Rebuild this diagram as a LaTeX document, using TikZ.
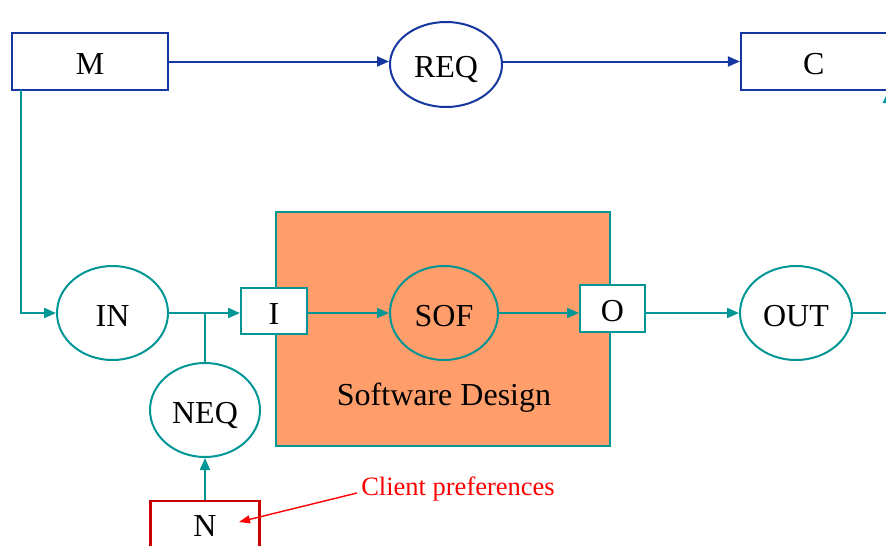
\documentclass[tikz,border=0pt]{standalone}
\usepackage{fontspec}
\setmainfont{Liberation Serif}
\usetikzlibrary{shapes.geometric,arrows.meta}
\definecolor{teal}{RGB}{0,150,150}
\definecolor{navy}{RGB}{20,55,160}
\definecolor{salmon}{RGB}{255,158,106}
\definecolor{darkred}{RGB}{200,0,0}
\tikzset{
  lbl/.style={font=\fontsize{32}{38}\selectfont, text=black, inner sep=0pt,
              text height=26pt, text depth=0pt},
  boxnode/.style={draw, rectangle, line width=2.2pt, fill=white, lbl},
  ovalnode/.style={draw=teal, ellipse, line width=2pt, fill=white, lbl},
  tip/.style={-{Triangle[length=12pt,width=10pt]}},
  tealline/.style={draw=teal, line width=2pt},
  blueline/.style={draw=navy, line width=2pt},
}
\begin{document}
\begin{tikzpicture}[x=1pt, y=-1pt]
\useasboundingbox (0,0) rectangle (886,546);
\clip (0,0) rectangle (886,546);

% top row
\node[boxnode, draw=navy, minimum width=156pt, minimum height=57pt] (M) at (90,61.5) {M};
\node[ovalnode, draw=navy, minimum width=112pt, minimum height=85pt] (REQ) at (446,64.5) {REQ};
\node[boxnode, draw=navy, minimum width=152pt, minimum height=57pt, text width=144pt, align=left] (C) at (817,61.5) {\hspace*{58pt}C};

% software design block
\node[draw=teal, line width=1.4pt, fill=salmon, minimum width=334pt, minimum height=234pt, inner sep=0pt] (SD) at (443,329) {};
\node[lbl] (SDlabel) at (444,392.5) {Software Design};

% middle row
\node[ovalnode, minimum width=111pt, minimum height=94pt] (IN) at (112.5,313) {IN};
\node[boxnode, draw=teal, line width=2pt, minimum width=66pt, minimum height=46pt] (I) at (274,311) {I};
\node[ovalnode, fill=salmon, minimum width=108pt, minimum height=94pt] (SOF) at (444,313) {SOF};
\node[boxnode, draw=teal, line width=2pt, minimum width=65pt, minimum height=47pt] (O) at (612.5,308.5) {O};
\node[ovalnode, minimum width=112pt, minimum height=94pt] (OUT) at (796,313) {OUT};

% lower nodes
\node[ovalnode, minimum width=110pt, minimum height=94pt] (NEQ) at (205,410) {NEQ};
\node[boxnode, draw=darkred, minimum width=109pt, minimum height=60pt] (N) at (205,531) {};
\node[lbl] (Nlabel) at (205,523) {N};
\node[inner sep=0pt, text=red, font=\fontsize{26.5}{32}\selectfont] (CP) at (458,489) {Client preferences};

% connectors
\draw[blueline, tip] (M.east) -- (M.east -| REQ.west);
\draw[blueline, tip] (REQ.east |- C.west) -- (C.west);

\coordinate (Mdrop) at (21,90);
\draw[tealline, tip] (Mdrop) |- (IN.west);
\draw[tealline, tip] (IN.east) -- (I.west |- IN.east);
\coordinate (J) at (205,313);
\draw[tealline] (J) -- (NEQ.north);
\draw[tealline, tip] (N.north) -- (NEQ.south);
\draw[tealline, tip] (I.east |- SOF.west) -- (SOF.west);
\draw[tealline, tip] (SOF.east) -- (O.west |- SOF.east);
\draw[tealline, tip] (O.east |- OUT.west) -- (OUT.west);
\coordinate (R) at (888,313);
\coordinate (Cb) at (888,91);
\draw[tealline, tip] (OUT.east) -- (R) -- (Cb);

\coordinate (CPstart) at (357,493);
\coordinate (Ntip) at (239,522);
\draw[red, line width=1.4pt, -{Triangle[length=11pt,width=8pt]}] (CPstart) -- (Ntip);
\end{tikzpicture}
\end{document}
